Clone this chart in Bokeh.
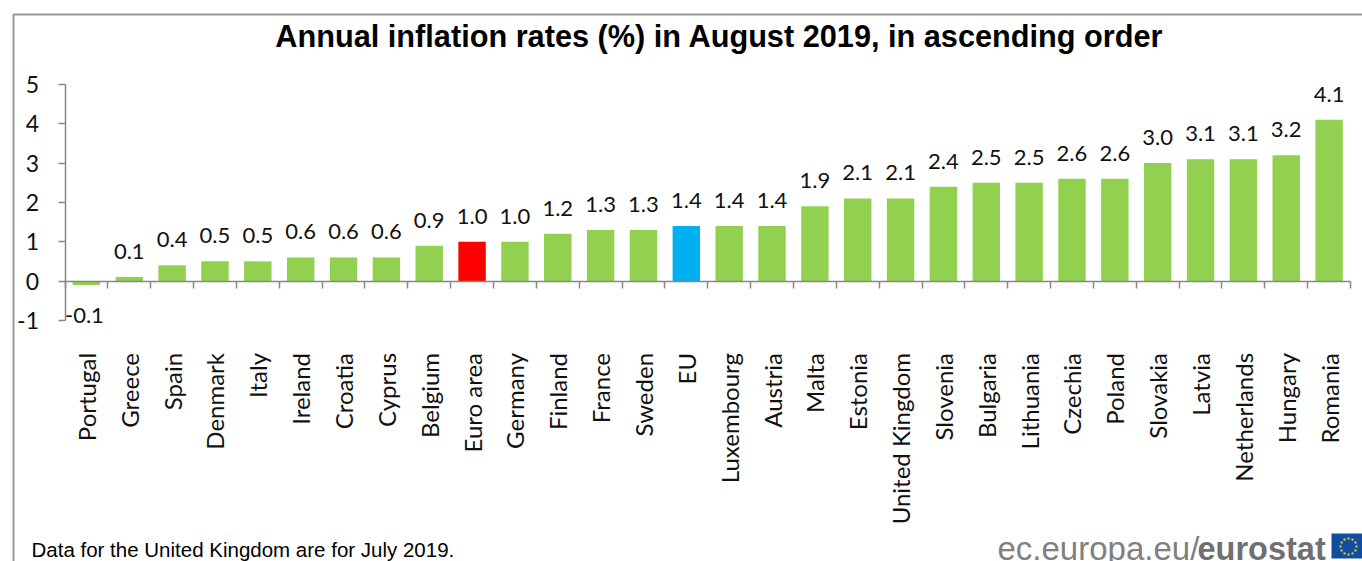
import math
from bokeh.plotting import figure
from bokeh.embed import file_html
from bokeh.resources import INLINE
from bokeh.core.properties import value
from bokeh.models import (ColumnDataSource, Range1d, LinearAxis,
                          FixedTicker, LabelSet, Label, BoxAnnotation)

categories = ["Portugal","Greece","Spain","Denmark","Italy","Ireland","Croatia","Cyprus","Belgium","Euro area",
              "Germany","Finland","France","Sweden","EU","Luxembourg","Austria","Malta","Estonia","United Kingdom",
              "Slovenia","Bulgaria","Lithuania","Czechia","Poland","Slovakia","Latvia","Netherlands","Hungary","Romania"]
values = [-0.1,0.1,0.4,0.5,0.5,0.6,0.6,0.6,0.9,1.0,1.0,1.2,1.3,1.3,1.4,1.4,1.4,1.9,2.1,2.1,
          2.4,2.5,2.5,2.6,2.6,3.0,3.1,3.1,3.2,4.1]
y_ticks = [-1,0,1,2,3,4,5]
GREEN, RED, BLUE = "#92D050", "#FF0000", "#00B0F0"
highlight = {"Euro area": RED, "EU": BLUE}
colors = [highlight.get(c, GREEN) for c in categories]
labels = [f"{v:.1f}" for v in values]
W, H = 1362, 561
AXC = "#868686"
n = len(categories)
centers = [i + 0.5 for i in range(n)]
# page-pixel geometry of the plot area
X0, X1 = 64.5, 1350.0   # first and last category boundary
Y5, Y0 = 84.0, 280.5    # value 5 and value 0
ux = (X1 - X0) / n
uy = (Y0 - Y5) / 5

p = figure(width=W, height=H, output_backend="svg", toolbar_location=None,
           x_range=Range1d(-X0 / ux, (W - X0) / ux), y_range=Range1d((Y0 - H) / uy, Y0 / uy),
           x_axis_location=None, y_axis_location=None,
           min_border_left=0, min_border_top=0, min_border_right=0, min_border_bottom=0,
           frame_width=W, frame_height=H)
p.grid.visible = False
p.outline_line_color = None

src = ColumnDataSource(dict(x=centers, top=values, c=colors, t=labels,
    yo=[-42 if v < 0 else 18 for v in values],
    xo=[-2 if v < 0 else 0 for v in values],
    ly=[max(v, 0) for v in values]))
p.vbar(x="x", top="top", bottom=0, width=0.64, fill_color="c", line_color=None, source=src)
p.add_layout(LabelSet(x="x", y="ly", text="t", source=src, x_offset="xo", y_offset="yo", text_align="center",
                      text_baseline="bottom", text_font=value("Lato"), text_font_size="22px", text_color="#111111"))

yax = LinearAxis(fixed_location=0, ticker=FixedTicker(ticks=y_ticks), bounds=(-1, 5), major_tick_in=0, major_tick_out=7, minor_tick_line_color=None,
                 axis_line_color=AXC, axis_line_width=1.5, major_tick_line_color=AXC, major_tick_line_width=1.5,
                 major_label_overrides={t: str(t) for t in y_ticks},
                 major_label_text_font="Lato", major_label_text_font_size="23px", major_label_text_color="#111111",
                 major_label_standoff=19)
p.add_layout(yax, "left")

tick_pos = list(range(n + 1))
tax = LinearAxis(fixed_location=0, ticker=FixedTicker(ticks=tick_pos), bounds=(0, n),
                 major_tick_in=0, major_tick_out=7, minor_tick_line_color=None,
                 axis_line_color=AXC, axis_line_width=1.5, major_tick_line_color=AXC, major_tick_line_width=1.5,
                 major_label_overrides={t: "" for t in tick_pos}, major_label_standoff=0)
p.add_layout(tax, "below")

cax = LinearAxis(fixed_location=-1.5, ticker=FixedTicker(ticks=centers), major_label_overrides=dict(zip(centers, categories)),
                 axis_line_color=None, major_tick_line_color=None, minor_tick_line_color=None,
                 major_label_orientation=math.pi/2, major_label_standoff=7,
                 major_label_text_font="Lato", major_label_text_font_size="24px", major_label_text_color="#111111")
p.add_layout(cax, "below")

def sy(y):  # page pixel y to frame-relative screen units
    return H - y
def lab(text, x, y, size, **kw):
    p.add_layout(Label(x=x, y=sy(y), x_units="screen", y_units="screen", text=text, text_font_size=size, **kw))
def box(l, r, t, b, **kw):
    p.add_layout(BoxAnnotation(left=l, right=r, top=sy(t), bottom=sy(b), left_units="screen", right_units="screen",
                               top_units="screen", bottom_units="screen", **kw))

box(13, 1500, 14, 700, fill_color=None, line_color="#989898", line_alpha=1, line_width=2)
lab("Annual inflation rates (%) in August 2019, in ascending order", 719, 36, "30.7px", text_font="Liberation Sans",
    text_font_style="bold", text_align="center", text_baseline="middle", text_color="black")
lab("Data for the United Kingdom are for July 2019.", 31, 549, "20.5px", text_font="Liberation Sans",
    text_baseline="middle", text_color="black")
lab("ec.europa.eu/", 997, 548, "33px", text_font="Liberation Sans", text_baseline="middle", text_color="#808080")
lab("eurostat", 1197, 548, "32.5px", text_font="Liberation Sans", text_font_style="bold", text_baseline="middle", text_color="#707070")
box(1331, 1362, 533, 558, fill_color="#0F4DA0", fill_alpha=1, line_color=None)
for i in range(12):
    a = i * math.pi / 6
    cx, cy = 1348 + 8 * math.cos(a), 546 + 8 * math.sin(a)
    box(cx-1, cx+1, cy-1, cy+1, fill_color="#F2D21B", fill_alpha=1, line_color=None)

open("out.html", "w").write(file_html(p, INLINE))
